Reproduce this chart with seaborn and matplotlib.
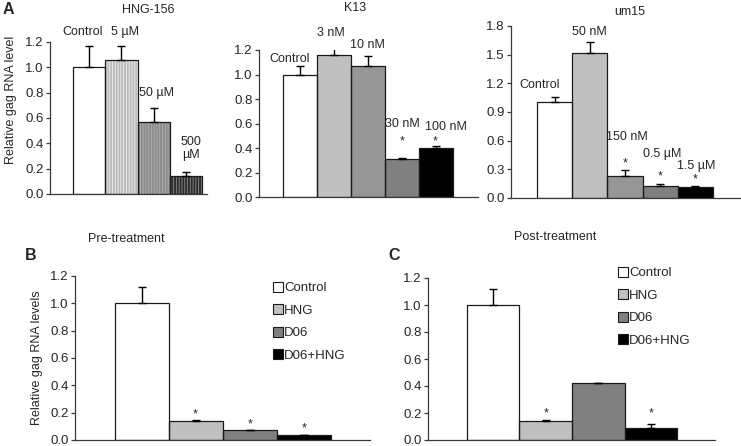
import matplotlib
matplotlib.use("Agg")
import matplotlib.pyplot as plt
import seaborn as sns
import numpy as np
from matplotlib.lines import Line2D
from matplotlib.patches import Rectangle
from matplotlib.ticker import FormatStrFormatter

# ---------------- data ----------------
a1_cats = ["Control", "5 µM", "50 µM", "500 µM"]
a1_vals = [1.00, 1.06, 0.57, 0.14]
a1_errs = [0.17, 0.11, 0.11, 0.03]

a2_cats = ["Control", "3 nM", "10 nM", "30 nM", "100 nM"]
a2_vals = [1.00, 1.16, 1.07, 0.31, 0.40]
a2_errs = [0.07, 0.09, 0.08, 0.01, 0.02]

a3_cats = ["Control", "50 nM", "150 nM", "0.5 µM", "1.5 µM"]
a3_vals = [1.00, 1.52, 0.23, 0.13, 0.12]
a3_errs = [0.06, 0.11, 0.06, 0.02, 0.01]

bc_cats = ["Control", "HNG", "D06", "D06+HNG"]
b_vals = [1.00, 0.14, 0.07, 0.04]
b_errs = [0.12, 0.005, 0.003, 0.0]
c_vals = [1.00, 0.14, 0.42, 0.09]
c_errs = [0.12, 0.01, 0.005, 0.025]

a1_colors = ["#ffffff", "#bcbcbc", "#8a8a8a", "#2e2e2e"]
a1_hatch_colors = [None, "#eeeeee", "#b4b4b4", "#8a8a8a"]
a2_colors = ["#ffffff", "#c0c0c0", "#969696", "#808080", "#000000"]
a3_colors = ["#ffffff", "#c0c0c0", "#969696", "#808080", "#000000"]
bc_colors = ["#ffffff", "#c0c0c0", "#808080", "#000000"]

# ---------------- style ----------------
sns.set_style("ticks")
plt.rcParams["font.family"] = ["Liberation Sans", "DejaVu Sans"]
plt.rcParams["hatch.linewidth"] = 0.6

W, H = 741, 446
fig = plt.figure(figsize=(W / 100, H / 100), dpi=100)


def add_ax(l, t, r, b):
    return fig.add_axes([l / W, 1 - b / H, (r - l) / W, (b - t) / H])


def ftext(x, y, s, **kw):
    fig.text(x / W, 1 - y / H, s, **kw)


def bar_panel(ax, cats, vals, errs, colors, ylim, yticks, xlim, hatch_colors=None):
    sns.barplot(x=cats, y=vals, hue=cats, palette=colors, order=cats, hue_order=cats,
                width=1.0, legend=False, ax=ax, edgecolor="none", linewidth=0,
                errorbar=None, saturation=1)
    patches = list(ax.patches)
    for i, p in enumerate(patches):
        if hatch_colors is not None and hatch_colors[i] is not None:
            p.set_hatch("||||||")
            p.set_edgecolor(hatch_colors[i])
            p.set_linewidth(0)
        ax.add_patch(Rectangle(p.get_xy(), p.get_width(), p.get_height(), fill=False,
                               edgecolor="#1a1a1a", linewidth=0.9, zorder=3))
    x = np.arange(len(cats))
    ax.errorbar(x, vals, yerr=[np.zeros(len(errs)), errs], fmt="none", ecolor="black",
                elinewidth=1.0, capsize=3.2, capthick=1.0, zorder=4)
    ax.set_ylim(*ylim)
    ax.set_yticks(yticks)
    ax.yaxis.set_major_formatter(FormatStrFormatter("%.1f"))
    ax.set_xlim(*xlim)
    ax.set_xticks([])
    ax.set_xlabel("")
    ax.set_ylabel("")
    sns.despine(ax=ax)
    for s in ("left", "bottom"):
        ax.spines[s].set_linewidth(0.9)
        ax.spines[s].set_color("#3a3a3a")
    ax.tick_params(axis="y", length=3, width=0.9, color="#3a3a3a", labelsize=9.5, pad=1.5)
    ax.patch.set_alpha(0)


lab = dict(fontsize=9, ha="center", va="center")

# ---------------- Panel A1 ----------------
ax1 = add_ax(50, 42, 207, 194)
bar_panel(ax1, a1_cats, a1_vals, a1_errs, a1_colors, (0, 1.2),
          np.arange(0, 1.21, 0.2), (-1.22, 3.66), hatch_colors=a1_hatch_colors)
ax1.set_ylabel("Relative gag RNA level", fontsize=9)
ax1.yaxis.set_label_coords(-0.21, 0.62)
ax1.text(-0.22, 1.28, "Control", **lab)
ax1.text(1.1, 1.28, "5 µM", **lab)
ax1.text(2.1, 0.80, "50 µM", **lab)
ax1.text(3.15, 0.36, "500\nµM", linespacing=1.1, **lab)
ftext(148, 10, "HNG-156", fontsize=9, ha="center", va="center")
ftext(3, 10, "A", fontsize=11.5, fontweight="bold", ha="left", va="center")

# ---------------- Panel A2 ----------------
ax2 = add_ax(259, 50, 478, 197)
bar_panel(ax2, a2_cats, a2_vals, a2_errs, a2_colors, (0, 1.2),
          np.arange(0, 1.21, 0.2), (-1.2, 5.24))
ax2.text(-0.3, 1.13, "Control", **lab)
ax2.text(0.91, 1.34, "3 nM", **lab)
ax2.text(2.0, 1.24, "10 nM", **lab)
ax2.text(3.03, 0.60, "30 nM", **lab)
ax2.text(4.3, 0.57, "100 nM", **lab)
ax2.text(3.0, 0.45, "*", **lab)
ax2.text(3.97, 0.455, "*", **lab)
ftext(355, 8, "K13", fontsize=9, ha="center", va="center")

# ---------------- Panel A3 ----------------
ax3 = add_ax(511, 26, 741, 198)
bar_panel(ax3, a3_cats, a3_vals, a3_errs, a3_colors, (0, 1.8),
          np.arange(0, 1.81, 0.3), (-1.24, 5.3))
ax3.text(-0.43, 1.18, "Control", **lab)
ax3.text(1.0, 1.74, "50 nM", **lab)
ax3.text(2.06, 0.64, "150 nM", **lab)
ax3.text(3.06, 0.46, "0.5 µM", **lab)
ax3.text(4.03, 0.34, "1.5 µM", **lab)
ax3.text(2.0, 0.36, "*", **lab)
ax3.text(3.0, 0.225, "*", **lab)
ax3.text(4.0, 0.195, "*", **lab)
ftext(630, 12, "um15", fontsize=9, ha="center", va="center")


def legend_for(ax, x, y):
    handles = [Line2D([0], [0], marker="s", linestyle="none", markersize=6.5,
                      markerfacecolor=c, markeredgecolor="#1a1a1a", markeredgewidth=0.8)
               for c in bc_colors]
    ax.legend(handles, bc_cats, loc="upper left", bbox_to_anchor=(x / W, 1 - y / H),
              bbox_transform=fig.transFigure, frameon=False, fontsize=9.5,
              borderpad=0, borderaxespad=0, handlelength=0.6, handletextpad=0.15,
              labelspacing=0.78)


# ---------------- Panel B ----------------
axb = add_ax(75, 276, 370, 440)
bar_panel(axb, bc_cats, b_vals, b_errs, bc_colors, (0, 1.2),
          np.arange(0, 1.21, 0.2), (-1.24, 4.22))
axb.set_ylabel("Relative gag RNA levels", fontsize=9)
axb.yaxis.set_label_coords(-0.11, 0.5)
axb.text(0.98, 0.19, "*", **lab)
axb.text(2.0, 0.115, "*", **lab)
axb.text(3.0, 0.085, "*", **lab)
legend_for(axb, 274, 282)
ftext(126, 239, "Pre-treatment", fontsize=9, ha="center", va="center")
ftext(25, 255, "B", fontsize=11.5, fontweight="bold", ha="left", va="center")

# ---------------- Panel C ----------------
axc = add_ax(428, 278, 715, 440)
bar_panel(axc, bc_cats, c_vals, c_errs, bc_colors, (0, 1.2),
          np.arange(0, 1.21, 0.2), (-1.24, 4.22))
axc.text(1.0, 0.2, "*", **lab)
axc.text(3.0, 0.2, "*", **lab)
legend_for(axc, 619, 267)
ftext(555, 237, "Post-treatment", fontsize=9, ha="center", va="center")
ftext(388, 255, "C", fontsize=11.5, fontweight="bold", ha="left", va="center")

fig.savefig("out.png", dpi=100)
